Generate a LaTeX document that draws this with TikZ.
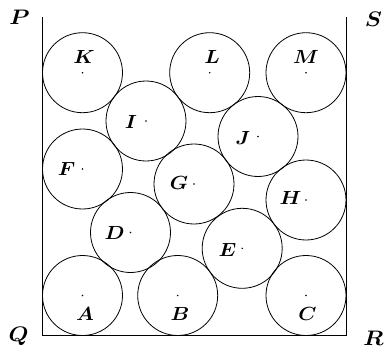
\documentclass[tikz,border=0pt]{standalone}
\newcommand{\balllbl}[1]{\scalebox{2.05}[1.9]{$#1$}}
\newcommand{\cornerlbl}[1]{\scalebox{2.3}[2.1]{$#1$}}
\begin{document}
\begin{tikzpicture}[x=1pt,y=-1pt,
  ball/.style={draw,circle,line width=0.8pt,minimum size=80pt,inner sep=0pt},
  ctr/.style={fill,circle,inner sep=0pt,minimum size=1.6pt},
  lab/.style={inner sep=0pt,font=\normalsize\boldmath},
  corner/.style={inner sep=0pt,font=\normalsize\boldmath},
  wall/.style={line width=0.9pt}]
\useasboundingbox (0,0) rectangle (384,351);
% container
\coordinate (P0) at (42.5,17);
\coordinate (Q0) at (42.5,335.5);
\coordinate (R0) at (346,335.5);
\coordinate (S0) at (346,17);
\draw[wall] (P0) -- (Q0) -- (R0) -- (S0);
\node[corner] (P) at (19.5,17.5) {\cornerlbl{P}};
\node[corner] (S) at (373.5,19.5) {\cornerlbl{S}};
\node[corner] (Q) at (18.5,336) {\cornerlbl{Q}};
\node[corner] (R) at (373.5,338) {\cornerlbl{R}};
% balls
\foreach \n/\x/\y in {K/82.5/72.7, L/209.7/72.7, M/306/72.7, I/146/121, J/258/136.5,
  F/82.5/169, G/194/184, H/306/200, D/130.5/232.5, E/242.2/248.3,
  A/82.5/295.5, B/177.7/295.5, C/306/295.5}{
  \node[ball] (\n) at (\x,\y) {};
  \node[ctr] (c\n) at (\n.center) {};
}
% labels above
\node[lab] (lK) at (84,57) {\balllbl{K}};
\node[lab] (lL) at (212,56.5) {\balllbl{L}};
\node[lab] (lM) at (306,56.5) {\balllbl{M}};
% labels below
\node[lab] (lA) at (85,314) {\balllbl{A}};
\node[lab] (lB) at (180,314) {\balllbl{B}};
\node[lab] (lC) at (307.5,314) {\balllbl{C}};
% labels left
\node[lab] (lI) at (131,121.5) {\balllbl{I}};
\node[lab] (lF) at (66.5,169) {\balllbl{F}};
\node[lab] (lJ) at (243,137.5) {\balllbl{J}};
\node[lab] (lG) at (179,183) {\balllbl{G}};
\node[lab] (lH) at (290.5,198) {\balllbl{H}};
\node[lab] (lD) at (114.5,232.5) {\balllbl{D}};
\node[lab] (lE) at (227.5,249.5) {\balllbl{E}};
\end{tikzpicture}
\end{document}
